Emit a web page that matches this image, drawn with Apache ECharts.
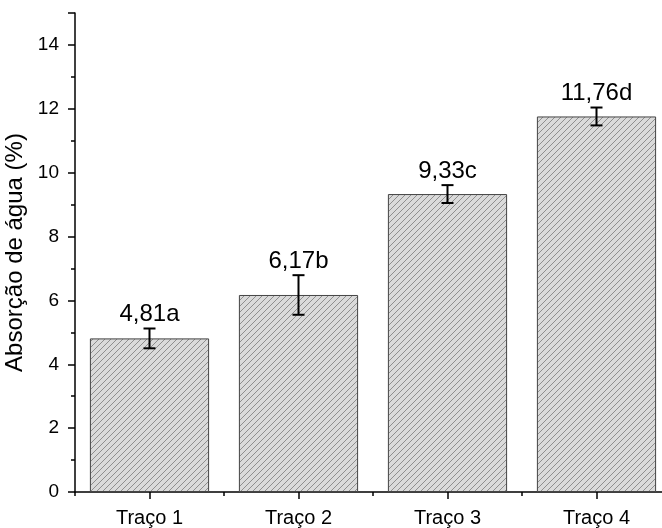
<!DOCTYPE html>
<html>
<head>
<meta charset="utf-8">
<script src="https://cdn.jsdelivr.net/npm/echarts@6/dist/echarts.min.js"></script>
<style>
  html, body { margin: 0; padding: 0; background: #fff; }
  #chart { width: 662px; height: 528px; }
</style>
</head>
<body>
<div id="chart"></div>
<script>
// Water absorption per mix (mean ± standard deviation, with group letters)
const categories = ['Traço 1', 'Traço 2', 'Traço 3', 'Traço 4'];
const means = [4.81, 6.17, 9.33, 11.76];
const errors = [0.31, 0.62, 0.28, 0.28];
const letters = ['a', 'b', 'c', 'd'];

const FONT = '"Liberation Sans", Arial, sans-serif';

// Diagonal hatch fill for the bars
function makeHatch() {
  const s = 6;
  const c = document.createElement('canvas');
  c.width = s; c.height = s;
  const ctx = c.getContext('2d');
  ctx.fillStyle = '#dadada';
  ctx.fillRect(0, 0, s, s);
  ctx.strokeStyle = '#8e8e8e';
  ctx.lineWidth = 1;
  ctx.beginPath();
  ctx.moveTo(0, s); ctx.lineTo(s, 0);
  ctx.moveTo(-1, 1); ctx.lineTo(1, -1);
  ctx.moveTo(s - 1, s + 1); ctx.lineTo(s + 1, s - 1);
  ctx.stroke();
  return c;
}

const chart = echarts.init(document.getElementById('chart'), null, { renderer: 'canvas' });

const errData = categories.map((c, i) => [i, means[i], errors[i]]);

chart.setOption({
  animation: false,
  backgroundColor: '#fff',
  // the plot area runs slightly past the right edge of the canvas
  grid: { left: 75, width: 596, top: 13, bottom: 36, containLabel: false, outerBoundsMode: 'none' },
  xAxis: [
    {
      type: 'category',
      data: categories,
      position: 'bottom',
      boundaryGap: true,
      axisLine: { show: true, lineStyle: { color: '#000', width: 1.5 } },
      axisTick: { show: true, alignWithLabel: true, length: 7, lineStyle: { color: '#000', width: 1.5 } },
      axisLabel: { color: '#000', fontSize: 20, fontFamily: FONT, margin: 16 },
      splitLine: { show: false }
    },
    {
      type: 'category',
      data: categories,
      position: 'bottom',
      boundaryGap: true,
      axisLine: { show: false },
      axisTick: { show: true, length: 4, lineStyle: { color: '#000', width: 1.5 } },
      axisLabel: { show: false },
      splitLine: { show: false }
    }
  ],
  yAxis: {
    type: 'value',
    min: 0,
    max: 15,
    interval: 2,
    name: 'Absorção de água (%)',
    nameLocation: 'middle',
    nameRotate: 90,
    nameGap: 37,
    nameTextStyle: { color: '#000', fontSize: 24, fontFamily: FONT },
    axisLine: { show: true, lineStyle: { color: '#000', width: 1.5 } },
    axisTick: { show: true, length: 7, lineStyle: { color: '#000', width: 1.5 } },
    minorTick: { show: true, splitNumber: 2, length: 4, lineStyle: { color: '#000', width: 1.5 } },
    axisLabel: { color: '#000', fontSize: 19, fontFamily: FONT, margin: 16, showMaxLabel: false },
    splitLine: { show: false },
    minorSplitLine: { show: false }
  },
  series: [
    {
      type: 'bar',
      data: means,
      barWidth: '80%',
      itemStyle: {
        color: { image: makeHatch(), repeat: 'repeat' },
        borderColor: '#444',
        borderWidth: 1
      }
    },
    {
      type: 'custom',
      data: errData,
      z: 10,
      renderItem: function (params, api) {
        const x = api.value(0);
        const m = api.value(1);
        const e = api.value(2);
        const top = api.coord([x, m + e]);
        const bot = api.coord([x, m - e]);
        const hw = 6;
        const stroke = { stroke: '#000', lineWidth: 2 };
        const label = String(m).replace('.', ',') + letters[params.dataIndex];
        return {
          type: 'group',
          children: [
            { type: 'line', shape: { x1: top[0], y1: top[1], x2: bot[0], y2: bot[1] }, style: stroke },
            { type: 'line', shape: { x1: top[0] - hw, y1: top[1], x2: top[0] + hw, y2: top[1] }, style: stroke },
            { type: 'line', shape: { x1: bot[0] - hw, y1: bot[1], x2: bot[0] + hw, y2: bot[1] }, style: stroke },
            {
              type: 'text',
              style: {
                text: label,
                x: top[0],
                y: top[1] - 2,
                align: 'center',
                verticalAlign: 'bottom',
                fontSize: 24,
                fontFamily: FONT,
                fill: '#000'
              }
            }
          ]
        };
      }
    }
  ]
});
</script>
</body>
</html>
